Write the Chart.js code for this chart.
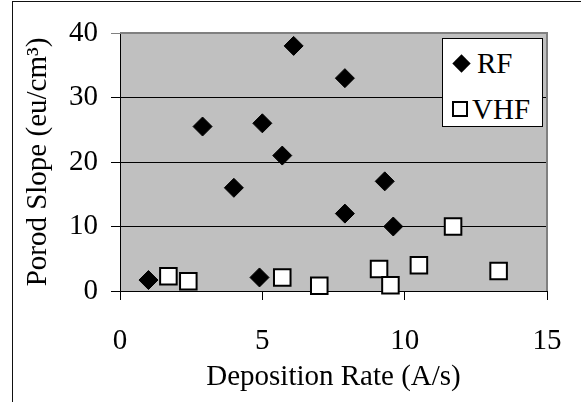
<!DOCTYPE html>
<html>
<head>
<meta charset="utf-8">
<script src="https://cdn.jsdelivr.net/npm/chart.js@4.4.1/dist/chart.umd.min.js"></script>
<style>
  html, body { margin: 0; padding: 0; background: #fff; }
  #wrap { position: relative; width: 581px; height: 402px; overflow: hidden; }
  #frame { position: absolute; left: 12px; top: 1px; width: 600px; height: 420px;
           border-left: 1px solid #111; border-top: 1px solid #111; }
  #chart { position: absolute; left: 0; top: 0; }
  #legend { position: absolute; left: 442px; top: 38px; width: 101px; height: 89px;
            background: #fff; border: 1px solid #000; box-sizing: border-box;
            font-family: 'Liberation Serif', 'Times New Roman', serif; font-size: 29px; color: #000; }
  .item { position: absolute; left: 0; height: 32px; line-height: 32px; }
  .item span.lbl { position: absolute; left: 34px; }
  .diamond { position: absolute; left: 12px; top: 10px; width: 13px; height: 13px;
             background: #000; transform: rotate(45deg); }
  .square { position: absolute; left: 9px; top: 8px; width: 12px; height: 12px;
            background: #fff; border: 2px solid #000; }
</style>
</head>
<body>
<div id="wrap">
  <div id="frame"></div>
  <canvas id="chart" width="581" height="402"></canvas>
  <div id="legend">
    <div class="item" style="top:8px"><div class="diamond"></div><span class="lbl">RF</span></div>
    <div class="item" style="top:54px"><div class="square"></div><span class="lbl" style="left:29px">VHF</span></div>
  </div>
</div>
<script>
// data
const rfRate  = [1.0, 2.9, 4.0, 4.9, 5.0, 5.7, 6.1, 7.9, 7.9, 9.3, 9.6];
const rfSlope = [1.7, 25.5, 16, 2.1, 26, 21, 38, 33, 12, 17, 10];
const vhfRate  = [1.7, 2.4, 5.7, 7.0, 9.1, 9.5, 10.5, 11.7, 13.3];
const vhfSlope = [2.3, 1.5, 2.1, 0.8, 3.4, 0.9, 4.0, 10, 3.1];
const xTicks = [0, 5, 10, 15];
const yTicks = [0, 10, 20, 30, 40];

const serif = "'Liberation Serif', 'Times New Roman', serif";

const toPoints = (xs, ys) => xs.map((x, i) => ({ x: x, y: ys[i] }));

// gray plot area with gray top/right edges
const plotBg = {
    id: 'plotBg',
    beforeDraw(chart) {
        const { ctx, chartArea: a } = chart;
        ctx.save();
        ctx.fillStyle = '#c0c0c0';
        ctx.fillRect(a.left, a.top, a.right - a.left, a.bottom - a.top);
        ctx.restore();
    },
    beforeDatasetsDraw(chart) {
        const { ctx, chartArea: a } = chart;
        ctx.save();
        ctx.strokeStyle = '#808080';
        ctx.lineWidth = 2;
        ctx.beginPath();
        ctx.moveTo(a.left, a.top);
        ctx.lineTo(a.right, a.top);
        ctx.lineTo(a.right, a.bottom);
        ctx.stroke();
        ctx.restore();
    }
};

new Chart(document.getElementById('chart').getContext('2d'), {
    type: 'scatter',
    data: {
        datasets: [{
            label: 'RF',
            data: toPoints(rfRate, rfSlope),
            pointStyle: 'rectRot',
            pointRadius: 9.5,
            pointHoverRadius: 9.5,
            backgroundColor: '#000',
            borderColor: '#000',
            borderWidth: 1
        }, {
            label: 'VHF',
            data: toPoints(vhfRate, vhfSlope),
            pointStyle: 'rect',
            pointRadius: 11.7,
            pointHoverRadius: 11.7,
            backgroundColor: '#fff',
            borderColor: '#000',
            borderWidth: 2
        }]
    },
    options: {
        responsive: false,
        animation: false,
        clip: false,
        layout: { padding: { left: 12, top: 33, right: 34, bottom: 0 } },
        plugins: { legend: { display: false }, tooltip: { enabled: false } },
        scales: {
            x: {
                type: 'linear',
                min: 0, max: 15,
                afterBuildTicks: s => { s.ticks = xTicks.map(v => ({ value: v })); },
                afterFit: s => { s.height = 111; s.paddingLeft = 0; s.paddingRight = 0; },
                grid: { drawOnChartArea: false, drawTicks: true, tickLength: 9, color: '#000' },
                border: { color: '#000', width: 1 },
                ticks: { color: '#000', padding: 24, font: { family: serif, size: 29 } },
                title: {
                    display: true, text: 'Deposition Rate (A/s)', color: '#000',
                    font: { family: serif, size: 29 }, padding: { top: 0, bottom: 7 }
                }
            },
            y: {
                min: 0, max: 40,
                afterBuildTicks: s => { s.ticks = yTicks.map(v => ({ value: v })); },
                afterFit: s => { s.width = 108; s.paddingTop = 0; s.paddingBottom = 0; },
                grid: {
                    color: c => (c.tick && c.tick.value === 40) ? '#808080' : '#000',
                    tickLength: 9
                },
                border: { color: '#000', width: 1 },
                ticks: { color: '#000', padding: 13, font: { family: serif, size: 29 } },
                title: {
                    display: true, text: 'Porod Slope (eu/cm³)', color: '#000',
                    font: { family: serif, size: 29 }, padding: { top: 9, bottom: 0 }
                }
            }
        }
    },
    plugins: [plotBg]
});
</script>
</body>
</html>
